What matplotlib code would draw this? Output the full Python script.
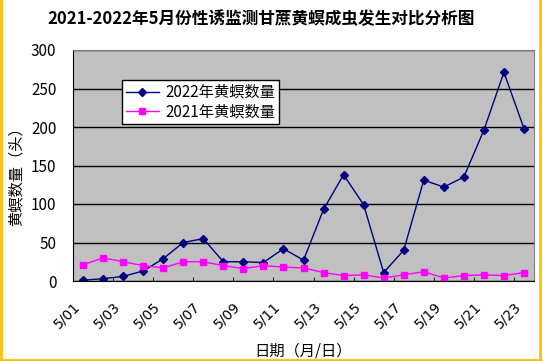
import matplotlib
matplotlib.use("Agg")
import matplotlib.pyplot as plt
import matplotlib.transforms as mtransforms
from matplotlib.lines import Line2D

plt.rcParams['font.family'] = ['Noto Sans CJK SC', 'DejaVu Sans']

dates = ["5/%02d" % d for d in range(1, 24)]
y2022 = [1, 3, 6, 13, 29, 50, 55, 25, 25, 24, 42, 27, 93, 138, 99, 11, 40,
         131, 122, 135, 196, 271, 198]
y2021 = [21, 30, 25, 20, 17, 25, 25, 20, 16, 20, 18, 17, 11, 7, 8, 4, 8,
         12, 4, 7, 8, 7, 11]

fig = plt.figure(figsize=(5.43, 3.61), dpi=100)
ax = fig.add_axes([73 / 543, 80 / 361, 461 / 543, 231 / 361])
ax.set_facecolor("#C0C0C0")

x = range(len(dates))
ax.plot(x, y2022, color="#000080", lw=1, marker="D", ms=4.5,
        label="2022年黄螟数量")
ax.plot(x, y2021, color="#FF00FF", lw=1, marker="s", ms=5,
        label="2021年黄螟数量")

ax.set_xlim(-0.5, len(dates) - 0.5)
ax.set_ylim(0, 300)
ax.set_yticks(range(0, 301, 50))
ax.yaxis.grid(True, color="black", lw=1)
ax.set_axisbelow(True)
ax.tick_params(axis="y", length=0, pad=12, labelsize=11)

ax.set_xticks(range(0, len(dates), 2))
ax.set_xticklabels(dates[::2], rotation=45, ha="right", va="top",
                   fontsize=10, family="DejaVu Sans")
shift = mtransforms.ScaledTranslation(-6 / 100, 0, fig.dpi_scale_trans)
for lab in ax.get_xticklabels():
    lab.set_transform(lab.get_transform() + shift)
ax.set_xticks([i - 0.5 for i in range(0, len(dates), 2)], minor=True)
ax.tick_params(axis="x", which="major", length=0, pad=13)
ax.tick_params(axis="x", which="minor", direction="in", length=3, color="black")

for s in ["top", "right"]:
    ax.spines[s].set_color("#808080")
for s in ["left", "bottom"]:
    ax.spines[s].set_color("black")

ax.set_ylabel("黄螟数量（头）", fontsize=11)
ax.yaxis.set_label_coords(-0.106, 0.47)
ax.set_xlabel("日期（月/日）", fontsize=11, labelpad=8)

leg = ax.legend(loc="upper left", bbox_to_anchor=(0.106, 0.87), fontsize=11,
                frameon=True, fancybox=False, framealpha=1, edgecolor="black",
                borderpad=0.25, labelspacing=0.15, handlelength=2.2,
                handletextpad=0.4, borderaxespad=0)
leg.get_frame().set_linewidth(1)

fig.text(261 / 543, 1 - 19 / 361, "2021-2022年5月份性诱监测甘蔗黄螟成虫发生对比分析图",
         ha="center", va="center", fontsize=12, fontweight="bold")

# gold border on the left, right and bottom
bc = "#FFC000"
fig.add_artist(Line2D([1 / 543, 1 / 543], [0, 1], color=bc, lw=2))
fig.add_artist(Line2D([540 / 543, 540 / 543], [0, 1], color=bc, lw=2))
fig.add_artist(Line2D([0, 541 / 543], [1.5 / 361, 1.5 / 361], color=bc, lw=2))

fig.savefig("out.png", dpi=100)
